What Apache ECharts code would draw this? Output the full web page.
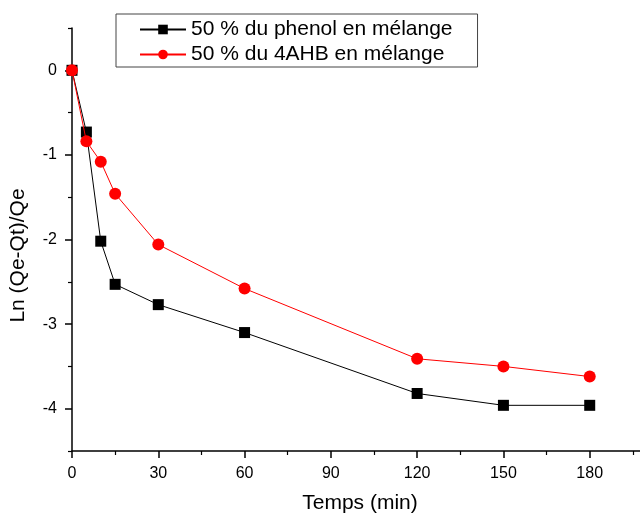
<!DOCTYPE html>
<html><head><meta charset="utf-8">
<script src="https://cdn.jsdelivr.net/npm/echarts@6/dist/echarts.min.js"></script>
<style>html,body{margin:0;padding:0;background:#fff}#c{width:640px;height:515px}</style>
</head><body><div id="c"></div>
<script>
var times = [0, 5, 10, 15, 30, 60, 120, 150, 180];
var phenol = [0, -0.73, -2.02, -2.53, -2.77, -3.10, -3.82, -3.96, -3.96];
var ahb = [0, -0.84, -1.08, -1.46, -2.06, -2.58, -3.41, -3.50, -3.62];
var seriesNames = ['50 % du phenol en mélange', '50 % du 4AHB en mélange'];
var xTitle = 'Temps (min)';
var yTitle = 'Ln (Qe-Qt)/Qe';
var yLabels = [-4, -3, -2, -1, 0];

function pairs(xs, ys){ return xs.map(function(x,i){return [x, ys[i]];}); }
var font = 'Liberation Sans, Arial, sans-serif';
var chart = echarts.init(document.getElementById('c'), null, {renderer:'canvas'});
chart.setOption({
  animation:false,
  backgroundColor:'#fff',
  grid:{left:72, right:-36, top:28, bottom:64, outerBoundsMode:'none', containLabel:false},
  legend:{
    left:116, top:14, orient:'vertical',
    itemWidth:46, itemHeight:12, itemGap:4,
    padding:[5,25,2,23],
    borderColor:'#444', borderWidth:1,
    textStyle:{fontFamily:font, fontSize:21, color:'#000'},
    data:seriesNames
  },
  xAxis:{
    type:'value', min:0, max:210, interval:30,
    name:xTitle, nameLocation:'middle', nameGap:42,
    nameTextStyle:{fontFamily:font, fontSize:21, color:'#000', padding:[0,28,0,0]},
    axisLine:{onZero:false, lineStyle:{color:'#000', width:1.5}},
    axisTick:{inside:false, length:7, lineStyle:{color:'#000', width:1.5}},
    minorTick:{show:true, splitNumber:2, length:4, lineStyle:{color:'#000', width:1.2}},
    axisLabel:{fontFamily:font, fontSize:16, color:'#000', margin:15},
    splitLine:{show:false}
  },
  yAxis:{
    // ticks counted from min fall on half units (short); minor ticks land on integers (long)
    type:'value', min:-4.5, max:0.5, interval:1,
    name:yTitle, nameLocation:'middle', nameGap:43, nameRotate:90,
    nameTextStyle:{fontFamily:font, fontSize:21, color:'#000', padding:[0,32,0,0]},
    axisLine:{show:true, onZero:false, lineStyle:{color:'#000', width:1.5}},
    axisTick:{show:true, inside:false, length:4, lineStyle:{color:'#000', width:1.2}},
    minorTick:{show:true, splitNumber:2, length:7, lineStyle:{color:'#000', width:1.5}},
    axisLabel:{fontFamily:font, fontSize:16, color:'#000', margin:15, customValues:yLabels},
    splitLine:{show:false}
  },
  series:[
    {name:seriesNames[0], type:'line', data:pairs(times, phenol),
     symbol:'rect', symbolSize:11, color:'#000',
     lineStyle:{color:'#000', width:1}, itemStyle:{color:'#000'}, z:3},
    {name:seriesNames[1], type:'line', data:pairs(times, ahb),
     symbol:'circle', symbolSize:12, color:'#ff0000',
     lineStyle:{color:'#ff0000', width:1}, itemStyle:{color:'#ff0000'}, z:4}
  ]
});
</script></body></html>
